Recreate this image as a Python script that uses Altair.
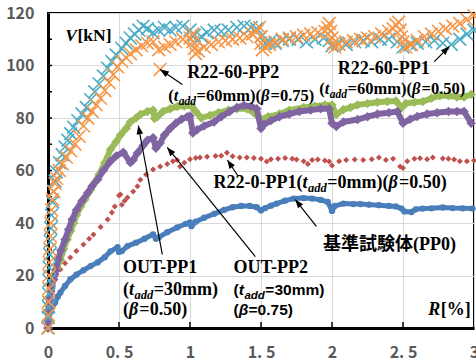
import math
import altair as alt
import pandas as pd

# ---------------- data (R [%], V [kN]) ----------------
PP0 = [(0,0),(0.005,3),(0.016,6),(0.03,8),(0.05,9.7),(0.07,12),(0.087,13.5),(0.12,16),(0.157,18.5),
       (0.2,20.3),(0.25,22),(0.3,23.6),(0.35,25),(0.4,27),(0.44,29.2),(0.49,30.8),(0.5,29),(0.52,29.3),
       (0.56,31.2),(0.62,32.5),(0.68,34),(0.74,35.7),(0.76,34),(0.78,34.5),(0.84,36.5),(0.91,38.3),
       (0.97,39.7),(1.0,40.2),(1.01,38.8),(1.04,40.5),(1.1,42),(1.17,43.5),(1.24,45),(1.3,46),(1.36,46.5),
       (1.42,46.5),(1.47,46),(1.5,44.8),(1.53,45.7),(1.57,46.6),(1.61,47.4),(1.67,48.5),(1.73,49.3),
       (1.8,49.5),(1.86,49.3),(1.92,48.8),(1.97,48),(2.0,44.6),(2.02,46.5),(2.08,47.4),(2.15,47.2),
       (2.2,47.2),(2.26,47),(2.33,46.8),(2.4,46.5),(2.45,46.3),(2.49,45.5),(2.51,44.4),(2.56,44.2),
       (2.59,45.2),(2.64,45.5),(2.7,45.6),(2.78,45.9),(2.85,45.7),(2.92,45.6),(2.99,45.5)]

R22_0_PP1 = [(0,0),(0.005,5),(0.01,10),(0.016,14),(0.03,17),(0.04,18.5),(0.06,20.5),(0.087,22.3),(0.12,24.7),
             (0.157,26.9),(0.2,29.3),(0.25,31.8),(0.29,34),(0.32,35.6),(0.37,38.5),(0.42,41.3),(0.45,44),
             (0.47,46.3),(0.5,50.5),(0.51,50.9),(0.52,47),(0.54,48.5),(0.56,49.7),(0.6,52),(0.63,54),
             (0.65,56.5),(0.69,58.5),(0.74,60.4),(0.79,61.5),(0.84,62.5),(0.88,63.5),(0.91,64),(0.93,61.5),
             (0.96,63),(1.0,64.3),(1.04,64.8),(1.07,65),(1.12,65.2),(1.18,65.5),(1.22,65.6),(1.26,66.8),
             (1.3,65.4),(1.35,65),(1.4,65),(1.45,64.8),(1.5,64.5),(1.54,63.4),(1.57,64.3),(1.62,64.5),
             (1.67,64.8),(1.72,64.5),(1.75,64.2),(1.8,63.5),(1.83,62.5),(1.86,64),(1.9,64.2),(1.95,63.8),
             (1.98,63.4),(2.0,61.9),(2.05,63.5),(2.1,64),(2.16,64.2),(2.22,64),(2.28,64.3),(2.33,65),
             (2.38,64),(2.43,64.5),(2.48,61.5),(2.5,61),(2.53,63.5),(2.58,64.5),(2.62,64.7),(2.67,64.3),
             (2.71,65),(2.78,64.6),(2.82,64.5),(2.86,64.2),(2.9,63.5),(2.95,63.5),(3.0,63.8)]

OUT_PP1 = [(0,0),(0.003,9),(0.01,12),(0.02,15),(0.04,19.6),(0.06,22.5),(0.087,26),(0.11,30),(0.135,33.7),
           (0.16,37),(0.18,40),(0.2,43),(0.23,46.3),(0.26,49),(0.3,52.7),(0.33,55.5),(0.36,58.5),(0.4,63),
           (0.44,68),(0.48,71),(0.51,73.5),(0.55,76),(0.58,78.5),(0.62,80),(0.65,81.3),(0.7,82.5),(0.74,83),
           (0.75,79.8),(0.77,80.5),(0.81,82.5),(0.86,83.5),(0.91,84.4),(0.96,84.6),(1.01,84.6),(1.04,82.5),
           (1.08,80),(1.14,81),(1.2,82),(1.27,83),(1.33,83.5),(1.4,83.5),(1.45,82),(1.5,79.5),(1.55,80.5),
           (1.63,81.5),(1.7,83),(1.8,84),(1.88,84.5),(1.95,85),(2.0,85),(2.03,81.3),(2.08,83.2),(2.13,84),
           (2.18,85),(2.25,85.5),(2.32,86),(2.39,86.3),(2.45,86.5),(2.49,84),(2.52,85.5),(2.58,86),
           (2.64,86.3),(2.7,87.5),(2.76,88.5),(2.82,88.5),(2.88,88),(2.93,88),(2.98,89)]

OUT_PP2 = [(0,0),(0.003,3),(0.005,7),(0.01,11),(0.02,14),(0.04,18.5),(0.055,22),(0.07,26),(0.09,29.5),
           (0.12,33.7),(0.145,37.5),(0.17,41.3),(0.2,45),(0.24,48.5),(0.28,51.5),(0.31,54),(0.35,56.6),
           (0.39,60),(0.44,63.5),(0.48,65.5),(0.53,67),(0.58,63),(0.6,64),(0.63,66.7),(0.67,69.5),(0.7,71.5),
           (0.74,72.5),(0.76,68.5),(0.79,70.5),(0.82,73.5),(0.86,76),(0.9,78),(0.94,79.5),(0.98,80.5),
           (1.0,80.8),(1.02,74.3),(1.05,75.5),(1.1,77),(1.17,78.5),(1.22,80.5),(1.28,82.5),(1.33,84),
           (1.38,84.8),(1.43,84.5),(1.47,83.5),(1.5,76),(1.52,77.5),(1.57,79),(1.63,80.5),(1.7,81.5),
           (1.77,82.5),(1.85,83),(1.92,83.5),(1.98,83.5),(2.0,78),(2.03,76.8),(2.08,78.5),(2.18,79.4),
           (2.25,80.5),(2.32,81.5),(2.4,82),(2.46,82.5),(2.5,78),(2.55,79.5),(2.6,80.6),(2.67,81.5),
           (2.74,82),(2.82,82.5),(2.88,82.5),(2.93,82.5),(2.98,78)]

R22_60_PP1 = [(0,0),(0.002,4),(0.004,8),(0.006,13),(0.008,18),(0.01,23),(0.013,28),(0.016,33),(0.02,38),
              (0.025,43),(0.032,48),(0.04,52),(0.05,56),(0.06,59.5),(0.08,63),(0.1,66),(0.12,69),(0.14,71.5),
              (0.16,74),(0.18,76.5),(0.21,79),(0.24,81.5),(0.27,84),(0.3,87),(0.33,90),(0.36,93),(0.39,96),
              (0.42,99),(0.45,101.5),(0.48,104),(0.52,106.5),(0.55,108.5),(0.58,110.5),(0.61,112),(0.64,113.5),
              (0.67,115),(0.7,114),(0.74,112.5),(0.78,113.5),(0.82,114.5),(0.86,113.5),(0.9,114.5),(0.95,115),
              (1.0,113.5),(1.03,111.5),(1.05,109.5),(1.08,111),(1.12,112.5),(1.17,113.5),(1.22,113),
              (1.27,113.5),(1.33,114.5),(1.38,115),(1.43,114.5),(1.47,114),(1.5,111),(1.53,108.5),(1.56,109),
              (1.6,108.5),(1.65,109.5),(1.7,110),(1.76,110),(1.82,109),(1.88,110),(1.94,110.5),(1.98,109.5),
              (2.0,107.5),(2.04,108.5),(2.1,108),(2.16,109),(2.22,109.5),(2.28,109),(2.34,110),(2.4,110),
              (2.46,109),(2.5,107),(2.55,108),(2.6,108.5),(2.66,109),(2.72,109.5),(2.78,108.5),(2.84,108),
              (2.9,110),(2.95,112),(3.0,113.5)]

R22_60_PP2 = [(0,0),(0.002,5),(0.004,10),(0.006,15),(0.008,20),(0.01,25),(0.013,30),(0.016,35),(0.02,40),
              (0.025,45),(0.032,49),(0.04,52),(0.05,55),(0.06,57),(0.08,60),(0.1,62.5),(0.13,65),(0.16,67.5),
              (0.19,70),(0.22,73),(0.25,77),(0.28,80),(0.31,82.5),(0.34,85),(0.37,87.5),(0.4,90.5),(0.43,93.5),
              (0.46,96.5),(0.49,99.5),(0.52,101.5),(0.55,103),(0.58,104.5),(0.62,106),(0.66,107.5),(0.7,108.5),
              (0.74,109),(0.79,98.5),(0.78,106),(0.82,107),(0.86,108),(0.9,109),(0.95,110),(1.0,110.5),
              (1.02,112),(1.02,109),(1.03,106.5),(1.04,104.5),(1.06,105.5),(1.1,107),(1.15,108),(1.2,109),
              (1.25,109.5),(1.3,110),(1.35,110.5),(1.4,111),(1.44,112),(1.47,113),(1.49,114.5),(1.5,111),
              (1.5,108.5),(1.51,106),(1.53,107),(1.56,108),(1.6,109),(1.65,110),(1.7,110.5),(1.75,111),
              (1.8,111.5),(1.85,112),(1.9,112.5),(1.95,113),(1.97,114.5),(1.98,116),(1.99,113),(2.0,110.5),
              (2.01,108.5),(2.02,107),(2.05,108),(2.1,109),(2.15,109.5),(2.2,110),(2.25,110.5),(2.3,111),
              (2.35,112),(2.4,113),(2.43,114),(2.45,115.5),(2.47,116.5),(2.48,113.5),(2.49,111),(2.5,109),
              (2.52,107),(2.56,108),(2.6,109.5),(2.65,111),(2.7,112),(2.75,113),(2.8,114),(2.85,115),
              (2.9,116),(2.95,117.5),(3.0,119)]

X_LABEL_VALUES = [0, 0.5, 1, 1.5, 2, 2.5, 3]
Y_LABEL_VALUES = [0, 20, 40, 60, 80, 100, 120]
X_INNER_TICKS = [0.5, 1, 1.5, 2, 2.5]
Y_INNER_TICKS = [10, 20, 30, 40, 50, 60, 70, 80, 90, 100, 110]

# arrows: (tail_r, tail_v, tip_r, tip_v)
ARROWS = [(0.946, 92.8, 0.79, 98.5),
          (2.72, 101.5, 2.826, 107.2),
          (1.341, 57.7, 1.263, 64.0),
          (1.89, 38.7, 1.741, 48.95),
          (1.46, 27.2, 0.84, 68.8),
          (0.805, 28.0, 0.636, 77.1)]

# ---------------- layout ----------------
W, H = 426, 315
XMAX, YMAX = 3.0, 120.0
SX, SY = W / XMAX, H / YMAX

xscale = alt.Scale(domain=[0, XMAX], nice=False, zero=False)
yscale = alt.Scale(domain=[0, YMAX], nice=False, zero=False)

LABEL_FONT = "Noto Sans CJK JP"
xaxis = alt.Axis(values=X_LABEL_VALUES, grid=True, gridColor="#D9D9D9", gridWidth=1, ticks=False,
                 domain=True, domainColor="black", domainWidth=3, labelFont=LABEL_FONT,
                 labelFontWeight="bold", labelFontSize=16, labelColor="#595959", labelPadding=16,
                 labelFlush=False, labelExpr="replace(toString(datum.value), '.', '. ')", title=None)
yaxis = alt.Axis(values=Y_LABEL_VALUES, grid=True, gridColor="#D9D9D9", gridWidth=1, ticks=False,
                 domain=True, domainColor="black", domainWidth=3, labelFont=LABEL_FONT,
                 labelFontWeight="bold", labelFontSize=16, labelColor="#595959", labelPadding=14,
                 labelFlush=False, title=None)

X = alt.X("r:Q", scale=xscale, axis=xaxis)
Y = alt.Y("v:Q", scale=yscale, axis=yaxis)


def frame(pairs):
    return pd.DataFrame({"r": [p[0] for p in pairs], "v": [p[1] for p in pairs],
                         "i": list(range(len(pairs)))})


layers = []

# inner ticks
xt = pd.DataFrame({"r": X_INNER_TICKS, "v": [0] * len(X_INNER_TICKS),
                   "v2": [6 / SY] * len(X_INNER_TICKS)})
layers.append(alt.Chart(xt).mark_rule(color="black", strokeWidth=1.5).encode(
    x=X, y=Y, y2="v2:Q"))
yt = pd.DataFrame({"r": [0] * len(Y_INNER_TICKS), "r2": [4 / SX] * len(Y_INNER_TICKS),
                   "v": Y_INNER_TICKS})
layers.append(alt.Chart(yt).mark_rule(color="black", strokeWidth=1.5).encode(
    x=X, x2="r2:Q", y=Y))

XSHAPE = "M-1,-1L1,1M-1,1L1,-1"

# PP0 blue circles
d = frame(PP0)
layers.append(alt.Chart(d).mark_line(color="#4A7EBB", strokeWidth=5, strokeCap="round",
                                     strokeJoin="round").encode(x=X, y=Y, order="i:Q"))
layers.append(alt.Chart(d).mark_point(shape="circle", filled=True, size=40, color="#4A7EBB",
                                      opacity=1).encode(x=X, y=Y))
# R22-0-PP1 red small diamonds
d = frame(R22_0_PP1)
layers.append(alt.Chart(d).mark_point(shape="diamond", filled=True, size=36, color="#C0504D",
                                      opacity=1).encode(x=X, y=Y))
# OUT-PP1 green diamonds
d = frame(OUT_PP1)
layers.append(alt.Chart(d).mark_line(color="#9BBB59", strokeWidth=6, strokeJoin="round").encode(
    x=X, y=Y, order="i:Q"))
layers.append(alt.Chart(d).mark_point(shape="diamond", filled=True, size=90, color="#9BBB59",
                                      opacity=1).encode(x=X, y=Y))
# OUT-PP2 purple diamonds
d = frame(OUT_PP2)
layers.append(alt.Chart(d).mark_line(color="#8064A2", strokeWidth=6, strokeJoin="round").encode(
    x=X, y=Y, order="i:Q"))
layers.append(alt.Chart(d).mark_point(shape="diamond", filled=True, size=90, color="#8064A2",
                                      opacity=1).encode(x=X, y=Y))
# R22-60-PP1 light blue X
d = frame(R22_60_PP1)
layers.append(alt.Chart(d).mark_point(shape=XSHAPE, filled=False, size=165, strokeWidth=1.6,
                                      color="#4BACC6", opacity=1).encode(x=X, y=Y))
# R22-60-PP2 orange X
d = frame(R22_60_PP2)
layers.append(alt.Chart(d).mark_point(shape=XSHAPE, filled=False, size=165, strokeWidth=1.6,
                                      color="#F79646", opacity=1).encode(x=X, y=Y))

# arrows
ar = pd.DataFrame({"r": [a[0] for a in ARROWS], "v": [a[1] for a in ARROWS],
                   "r2": [a[2] for a in ARROWS], "v2": [a[3] for a in ARROWS]})
layers.append(alt.Chart(ar).mark_rule(color="black", strokeWidth=1.2).encode(
    x=X, y=Y, x2="r2:Q", y2="v2:Q"))
heads = pd.DataFrame({
    "r": [a[2] for a in ARROWS], "v": [a[3] for a in ARROWS],
    "ang": [math.degrees(math.atan2((a[2] - a[0]) * SX, (a[3] - a[1]) * SY)) % 360 for a in ARROWS]})
layers.append(alt.Chart(heads).mark_point(shape="M0,0L-0.38,1L0.38,1Z", filled=True, size=300,
                                          color="black", opacity=1).encode(
    x=X, y=Y, angle=alt.Angle("ang:Q", scale=None)))

# ---------------- rich text ----------------
W_SERIF_B = {"(": .333, ")": .333, "-": .333, ".": .25, "=": .57, "%": 1.0, "[": .333, "]": .333,
             "k": .556, "m": .833, "N": .722, "O": .778, "P": .611, "R": .722, "T": .667, "U": .722,
             "V": .722}
W_SERIF_BI = {"t": .278, "a": .5, "d": .5, "β": .55, "V": .667, "R": .667}
W_SANS_B = {"(": .333, ")": .333, "=": .584, "m": .889, ".": .278}
W_SANS_BI = {"t": .333, "a": .556, "d": .611, "β": .6}


def width(t, fam, it):
    if fam == "cjk":
        return len(t) * 1.0
    if fam == "serif":
        tab = W_SERIF_BI if it else W_SERIF_B
        dig = .5
    else:
        tab = W_SANS_BI if it else W_SANS_B
        dig = .556
    return sum(tab.get(c, dig if c.isdigit() else .55) for c in t)


FONTS = {"serif": "Liberation Serif", "sans": "Liberation Sans", "cjk": "Noto Sans CJK JP"}


def rich(r, v, pieces):
    out = []
    dx = 0.0
    for (t, fam, it, size, dy) in pieces:
        out.append(alt.Chart(pd.DataFrame({"r": [r], "v": [v]})).mark_text(
            text=t, font=FONTS[fam], fontSize=size, fontWeight="bold",
            fontStyle="italic" if it else "normal", align="left", baseline="alphabetic",
            dx=dx, dy=dy, color="black").encode(x=X, y=Y))
        dx += width(t, fam, it) * size + (0.5 if it else 0.0)
    return out


S = 18


def tadd(mm, fam="serif", size=S, sub=12.5):
    return [("(", fam, False, size, 0), ("t", fam, True, size, 0), ("add", fam, True, sub, 4),
            ("=" + mm + ")", fam, False, size, 0)]


def beta(val, fam="serif", size=S):
    return [("(", fam, False, size, 0), ("β", fam, True, size, 0), ("=" + val + ")", fam, False, size, 0)]


S2 = 16.5
layers += rich(0.122, 109.3, [("V", "serif", True, 17.5, 0), ("[kN]", "serif", False, 17.5, 0)])
layers += rich(2.678, 5.1, [("R", "serif", True, S, 0), ("[%]", "serif", False, S, 0)])
layers += rich(0.981, 95.3, [("R22-60-PP2", "serif", False, S, 0)])
layers += rich(0.847, 86.5, tadd("60mm", size=S2, sub=11.5) + beta("0.75", size=S2))
layers += rich(2.041, 96.6, [("R22-60-PP1", "serif", False, S, 0)])
layers += rich(1.91, 89.3, tadd("60mm", size=S2, sub=11.5) + beta("0.50", size=S2))
layers += rich(1.166, 53.4, [("R22-0-PP1", "serif", False, S, 0)] + tadd("0mm") + beta("0.50"))
layers += rich(1.937, 29.9, [("基準試験体", "cjk", False, 18, 0), ("(PP0)", "serif", False, S, 0)])
layers += rich(0.528, 21.0, [("OUT-PP1", "serif", False, S, 0)])
layers += rich(0.528, 12.4, tadd("30mm"))
layers += rich(0.528, 5.1, beta("0.50"))
layers += rich(1.307, 21.0, [("OUT-PP2", "serif", False, S, 0)])
layers += rich(1.307, 12.4, tadd("30mm", "sans", 15.5, 11.5))
layers += rich(1.307, 5.1, beta("0.75", "sans", 15.5))

chart = alt.layer(*layers).properties(
    width=W, height=H, autosize=alt.AutoSizeParams(type="none"),
    padding={"left": 48, "top": 13, "right": 2, "bottom": 35},
    background="white",
).configure_view(stroke="black", strokeWidth=2)

chart.save("out.html", embed_options={"renderer": "svg", "actions": False})
